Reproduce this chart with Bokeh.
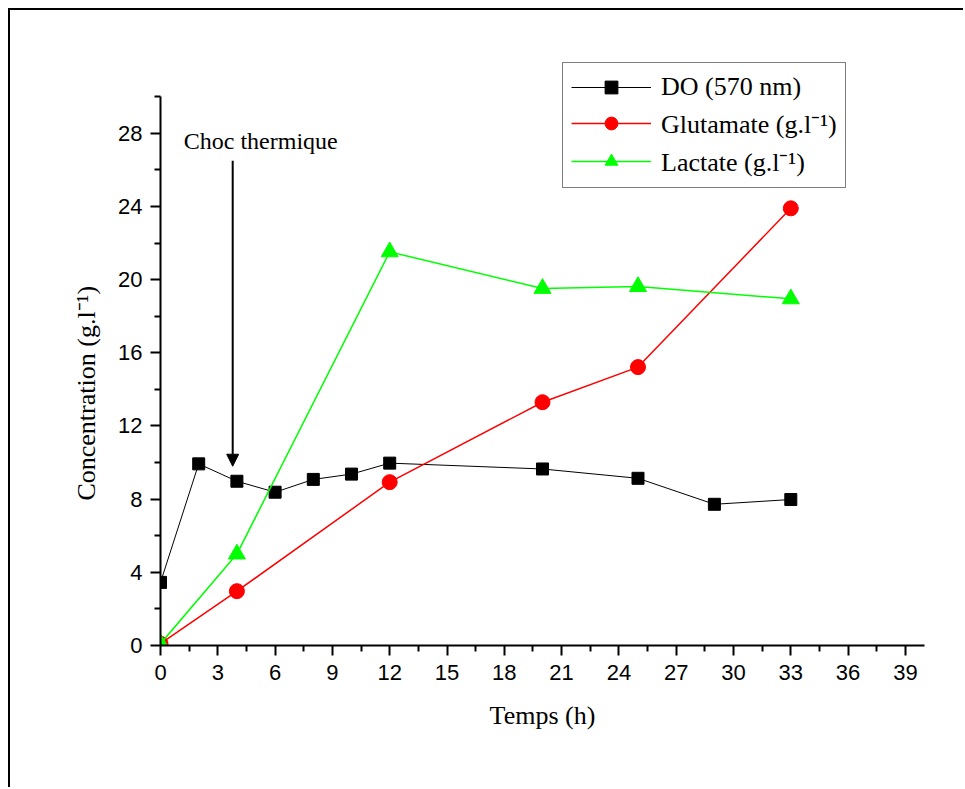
from bokeh.plotting import figure
from bokeh.models import (FixedTicker, Legend, LegendItem, Arrow, NormalHead, Label)
from bokeh.embed import file_html
from bokeh.resources import INLINE

# ---- data ----
do_t = [0, 2, 4, 6, 8, 10, 12, 20, 25, 29, 33]
do_v = [3.45, 9.93, 8.98, 8.38, 9.08, 9.37, 9.97, 9.65, 9.14, 7.72, 7.98]

glu_t = [0, 4, 12, 20, 25, 33]
glu_v = [0.1, 2.97, 8.93, 13.3, 15.22, 23.9]

lac_t = [0, 4, 12, 20, 25, 33]
lac_v = [0.1, 5.0, 21.52, 19.52, 19.62, 18.95]

x_ticks = [0, 3, 6, 9, 12, 15, 18, 21, 24, 27, 30, 33, 36, 39]
x_minor = [1.5, 4.5, 7.5, 10.5, 13.5, 16.5, 19.5, 22.5, 25.5, 28.5, 31.5, 34.5, 37.5]
y_ticks = [0, 4, 8, 12, 16, 20, 24, 28]
y_minor = [2, 6, 10, 14, 18, 22, 26, 30]

arrow_x = 3.78
arrow_y_start = 26.5
arrow_y_end = 9.8
note_x = 5.25
note_y = 27.6

serif = "Liberation Serif"
sans = "Liberation Sans"

p = figure(width=955, height=779, x_range=(0, 40), y_range=(0, 32.2),
           output_backend="svg", toolbar_location=None,
           min_border_left=150, min_border_right=41,
           min_border_top=46, min_border_bottom=144)
p.margin = (8, 0, 0, 8)
p.styles = {"border-top": "2px solid black", "border-left": "2px solid black"}
p.outline_line_color = None
p.xgrid.visible = False
p.ygrid.visible = False
p.background_fill_color = "white"
p.border_fill_color = "white"

for ax in (p.xaxis[0], p.yaxis[0]):
    ax.axis_line_width = 2
    ax.major_tick_line_width = 2
    ax.minor_tick_line_width = 2
    ax.major_tick_in = 0
    ax.major_tick_out = 10
    ax.minor_tick_in = 0
    ax.minor_tick_out = 6
    ax.major_label_text_font = sans
    ax.major_label_text_font_size = "22px"
    ax.major_label_text_color = "black"
    ax.axis_label_text_font = serif
    ax.axis_label_text_font_size = "26px"
    ax.axis_label_text_font_style = "normal"
    ax.axis_label_text_color = "black"

p.xaxis.ticker = FixedTicker(ticks=x_ticks, minor_ticks=x_minor)
p.yaxis.ticker = FixedTicker(ticks=y_ticks, minor_ticks=y_minor)
p.yaxis.bounds = (0, 30)
p.xaxis.axis_label = "Temps (h)"
# trailing no-break spaces shift the centred label down to the 0-28 span
p.yaxis.axis_label = "Concentration (g.l\u207b\u00b9)" + "\u00a0" * 13
p.xaxis.major_label_standoff = 9
p.xaxis.axis_label_standoff = 18
p.yaxis.major_label_standoff = 8
p.yaxis.axis_label_standoff = 14

l1 = p.line(do_t, do_v, line_color="black", line_width=1)
m1 = p.scatter(do_t, do_v, marker="square", size=12, fill_color="black", line_color="black")
l2 = p.line(glu_t, glu_v, line_color="#ff0000", line_width=1.5)
m2 = p.scatter(glu_t, glu_v, marker="circle", size=15, fill_color="#ff0000", line_color="#ff0000")
l3 = p.line(lac_t, lac_v, line_color="#00ff00", line_width=1.5)
m3 = p.scatter(lac_t, lac_v, marker="triangle", size=17, fill_color="#00ff00", line_color="#00ff00")

legend = Legend(items=[
    LegendItem(label="DO (570 nm)", renderers=[l1, m1]),
    LegendItem(label="Glutamate (g.l\u207b\u00b9)", renderers=[l2, m2]),
    LegendItem(label="Lactate (g.l\u207b\u00b9)", renderers=[l3, m3]),
], location=(402, 457))
legend.label_text_font = serif
legend.label_text_font_size = "26px"
legend.label_text_color = "black"
legend.glyph_width = 80
legend.glyph_height = 32
legend.label_height = 30
legend.spacing = 2
legend.padding = 8
legend.margin = 0
legend.label_standoff = 10
legend.border_line_color = "black"
legend.border_line_width = 1.5
legend.background_fill_alpha = 1
p.add_layout(legend, "center")

p.add_layout(Arrow(end=NormalHead(size=12, fill_color="black", line_color="black", line_width=1),
                   x_start=arrow_x, y_start=arrow_y_start, x_end=arrow_x, y_end=arrow_y_end,
                   line_color="black", line_width=2))
p.add_layout(Label(x=note_x, y=note_y, text="Choc thermique", text_font=serif,
                   text_font_size="24px", text_align="center", text_baseline="middle",
                   text_color="black"))

open("out.html", "w").write(file_html(p, INLINE))
